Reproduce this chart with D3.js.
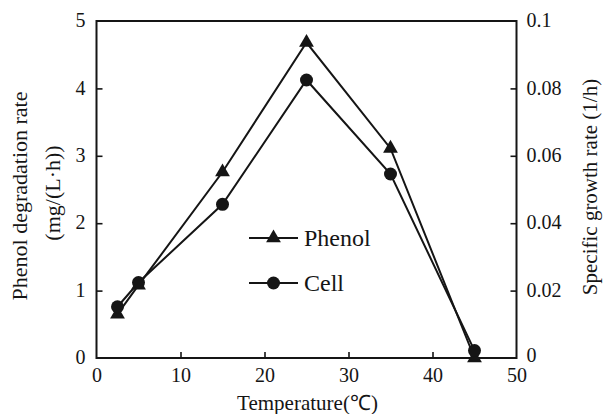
<!DOCTYPE html>
<html>
<head>
<meta charset="utf-8">
<script src="https://cdn.jsdelivr.net/npm/d3@7"></script>
<style>
  html, body { margin: 0; padding: 0; background: #fff; }
  svg { display: block; font-family: "Liberation Serif", "Times New Roman", serif; }
</style>
</head>
<body>
<svg id="chart" width="603" height="414"></svg>
<script>
// Temperature (°C) at which each run was made
const temperatures = [2.5, 5, 15, 25, 35, 45];
// Phenol degradation rate, mg/(L·h)  (left axis)
const phenolRate = [0.65, 1.08, 2.76, 4.68, 3.11, 0.0];
// Specific growth rate of the cells, 1/h  (right axis)
const cellRate = [0.0152, 0.0224, 0.0456, 0.0825, 0.0546, 0.0022];

const xTicks = [0, 10, 20, 30, 40, 50];
const leftTicks = [0, 1, 2, 3, 4, 5];
const rightTicks = [0, 0.02, 0.04, 0.06, 0.08, 0.1];
const legendItems = ["Phenol", "Cell"];

const svg = d3.select("#chart");
const plotLeft = 96.5, plotRight = 516.5, plotTop = 21, plotBottom = 358;

const x = d3.scaleLinear().domain([0, 50]).range([plotLeft, plotRight]);
const yL = d3.scaleLinear().domain([0, 5]).range([plotBottom, plotTop]);
const yR = d3.scaleLinear().domain([0, 0.1]).range([plotBottom, plotTop]);

const ink = "#151515";
const serif = "'Liberation Serif', 'Times New Roman', serif";
const tickFont = 20;

// frame
svg.append("rect")
  .attr("x", plotLeft).attr("y", plotTop)
  .attr("width", plotRight - plotLeft).attr("height", plotBottom - plotTop)
  .attr("fill", "none").attr("stroke", ink).attr("stroke-width", 2);

function styleAxis(g) {
  g.attr("font-family", null);
  g.select(".domain").remove();
  g.selectAll(".tick line").attr("stroke", ink).attr("stroke-width", 1.6);
  g.selectAll(".tick text").attr("fill", ink)
    .style("font-size", tickFont + "px")
    .style("font-family", serif);
}

// bottom axis, ticks pointing inward
svg.append("g").attr("transform", `translate(0,${plotBottom})`)
  .call(d3.axisBottom(x).tickValues(xTicks).tickSizeInner(-6).tickSizeOuter(0).tickPadding(10).tickFormat(d3.format("d")))
  .call(styleAxis)
  .call(g => g.selectAll(".tick").filter(d => d === 0 || d === 50).select("line").remove());

// left axis
svg.append("g").attr("transform", `translate(${plotLeft},0)`)
  .call(d3.axisLeft(yL).tickValues(leftTicks).tickSizeInner(-6).tickSizeOuter(0).tickPadding(11).tickFormat(d3.format("d")))
  .call(styleAxis)
  .call(g => g.selectAll(".tick").filter(d => d === 0 || d === 5).select("line").remove())
  .call(g => g.selectAll(".tick text").attr("dy", "0.28em"));

// right axis
svg.append("g").attr("transform", `translate(${plotRight},0)`)
  .call(d3.axisRight(yR).tickValues(rightTicks).tickSizeInner(-6).tickSizeOuter(0).tickPadding(10).tickFormat(d => d === 0 ? "0" : String(+d.toFixed(2))))
  .call(styleAxis)
  .call(g => g.selectAll(".tick").filter(d => d === 0 || d === 0.1).select("line").remove())
  .call(g => g.selectAll(".tick text").attr("dy", "0.28em"))
  .call(g => g.selectAll(".tick").filter(d => d === 0).select("text").attr("dy", "0.15em"));

// axis titles
svg.append("text")
  .attr("x", (plotLeft + plotRight) / 2 + 1).attr("y", 410)
  .attr("text-anchor", "middle").attr("fill", ink)
  .style("font-size", "21px")
  .text("Temperature(℃)");

svg.append("text")
  .attr("transform", `translate(27,196) rotate(-90)`)
  .attr("text-anchor", "middle").attr("fill", ink)
  .style("font-size", "22px")
  .text("Phenol degradation rate");

svg.append("text")
  .attr("transform", `translate(60,193) rotate(-90)`)
  .attr("text-anchor", "middle").attr("fill", ink)
  .style("font-size", "22px")
  .text("(mg/(L·h))");

svg.append("text")
  .attr("transform", `translate(597,187) rotate(-90)`)
  .attr("text-anchor", "middle").attr("fill", ink)
  .style("font-size", "21px")
  .text("Specific growth rate (1/h)");

// series
const phenolPts = temperatures.map((t, i) => [x(t), yL(phenolRate[i])]);
const cellPts = temperatures.map((t, i) => [x(t), yR(cellRate[i])]);
const line = d3.line();

svg.append("path").attr("d", line(phenolPts))
  .attr("fill", "none").attr("stroke", ink).attr("stroke-width", 2);
svg.append("path").attr("d", line(cellPts))
  .attr("fill", "none").attr("stroke", ink).attr("stroke-width", 2);

const tri = d3.symbol().type(d3.symbolTriangle).size(95);

svg.append("g").selectAll("path").data(phenolPts).join("path")
  .attr("transform", d => `translate(${d[0]},${d[1]})`)
  .attr("d", tri).attr("fill", ink);

svg.append("g").selectAll("circle").data(cellPts).join("circle")
  .attr("cx", d => d[0]).attr("cy", d => d[1]).attr("r", 6.5).attr("fill", ink);

// legend
const legend = svg.append("g");
const legendY = [238, 283];
legendItems.forEach((name, i) => {
  const g = legend.append("g").attr("transform", `translate(249,${legendY[i]})`);
  g.append("line").attr("x1", 0).attr("x2", 49).attr("y1", 0).attr("y2", 0)
    .attr("stroke", ink).attr("stroke-width", 2);
  if (i === 0) {
    g.append("path").attr("transform", "translate(24.5,0)").attr("d", tri).attr("fill", ink);
  } else {
    g.append("circle").attr("cx", 24.5).attr("cy", 0).attr("r", 6.5).attr("fill", ink);
  }
  g.append("text").attr("x", 55).attr("y", 0).attr("dy", "0.35em")
    .attr("fill", ink).style("font-size", "24px").text(name);
});
</script>
</body>
</html>
